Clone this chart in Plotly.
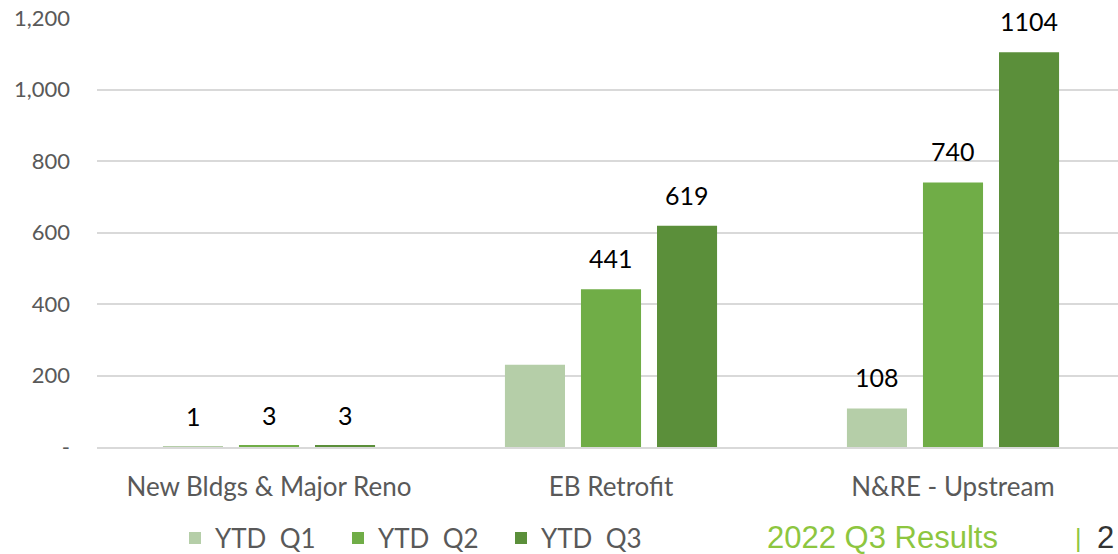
import plotly.graph_objects as go

categories = ["New Bldgs & Major Reno", "EB Retrofit", "N&RE - Upstream"]
series_names = ["YTD  Q1", "YTD  Q2", "YTD  Q3"]
q1_values = [1, 230, 108]
q2_values = [3, 441, 740]
q3_values = [3, 619, 1104]
q1_labels = ["1", "", "108"]
q2_labels = ["3", "441", "740"]
q3_labels = ["3", "619", "1104"]
colors = ["#B5CEA8", "#70AD47", "#5B8F3A"]
y_tickvals = [0, 200, 400, 600, 800, 1000, 1200]
y_ticktext = ["-", "200", "400", "600", "800", "1,000", "1,200"]

series = [
    (series_names[0], q1_values, q1_labels, colors[0]),
    (series_names[1], q2_values, q2_labels, colors[1]),
    (series_names[2], q3_values, q3_labels, colors[2]),
]

fig = go.Figure()
for name, vals, labels, col in series:
    fig.add_trace(go.Bar(name=name, x=categories, y=vals, marker_color=col,
                         marker_line_width=0, hoverinfo="skip"))

W, H = 1118, 554
L, R, T, B = 97, 0, 18, 107
plot_w = W - L - R
plot_h = H - T - B
cat_px = 342.0
x0 = (L - 269) / cat_px
x1 = x0 + plot_w / cat_px
bar_step = 76


def px_x(px):
    return (px - L) / plot_w


def px_y(py):
    return (H - B - py) / plot_h


annotations = []
for i, (name, vals, labels, col) in enumerate(series):
    for j, cat in enumerate(categories):
        if labels[j]:
            annotations.append(dict(
                x=cat, y=vals[j], xref="x", yref="y", text=labels[j],
                showarrow=False, xshift=(i - 1) * bar_step, yshift=31,
                yanchor="middle", font=dict(family="Lato", size=25, color="#000000")))

annotations.append(dict(x=px_x(765), y=px_y(537), xref="paper", yref="paper",
                        text="2022 Q3 Results", showarrow=False, xanchor="left", yanchor="middle",
                        font=dict(family="Liberation Sans", size=31, color="#8DC63F")))
annotations.append(dict(x=px_x(1078), y=px_y(538), xref="paper", yref="paper",
                        text="|", showarrow=False, xanchor="center", yanchor="middle",
                        font=dict(family="Liberation Sans", size=25, color="#8DC63F")))
annotations.append(dict(x=px_x(1116), y=px_y(537), xref="paper", yref="paper",
                        text="2", showarrow=False, xanchor="right", yanchor="middle",
                        font=dict(family="Liberation Sans", size=31, color="#333333")))

fig.update_layout(
    width=W, height=H,
    margin=dict(l=L, r=R, t=T, b=B, pad=0, autoexpand=False),
    paper_bgcolor="white", plot_bgcolor="white",
    barmode="group", bargap=0.333, bargroupgap=0.21,
    font=dict(family="Lato", color="#595959"),
    showlegend=True,
    legend=dict(orientation="h", x=px_x(175), y=px_y(538), xanchor="left", yanchor="middle",
                font=dict(family="Lato", size=26, color="#595959"),
                entrywidth=118, entrywidthmode="pixels", traceorder="normal"),
    annotations=annotations,
)
fig.update_xaxes(range=[x0, x1], showgrid=False, showline=True, linecolor="#D9D9D9", linewidth=2,
                 ticks="", tickfont=dict(family="Lato", size=26, color="#595959"),
                 ticklabelstandoff=16, fixedrange=True, automargin=False)
fig.update_yaxes(range=[0, 1200], tickvals=y_tickvals, ticktext=y_ticktext,
                 showgrid=True, gridcolor="#D9D9D9", gridwidth=1.5, zeroline=False,
                 showline=False, tickfont=dict(family="Lato", size=22, color="#595959"),
                 ticklabelstandoff=26, fixedrange=True, automargin=False)

fig.write_html("out.html", config={"displayModeBar": False},
               post_script="document.body.style.margin='0';document.body.style.overflow='hidden';")
